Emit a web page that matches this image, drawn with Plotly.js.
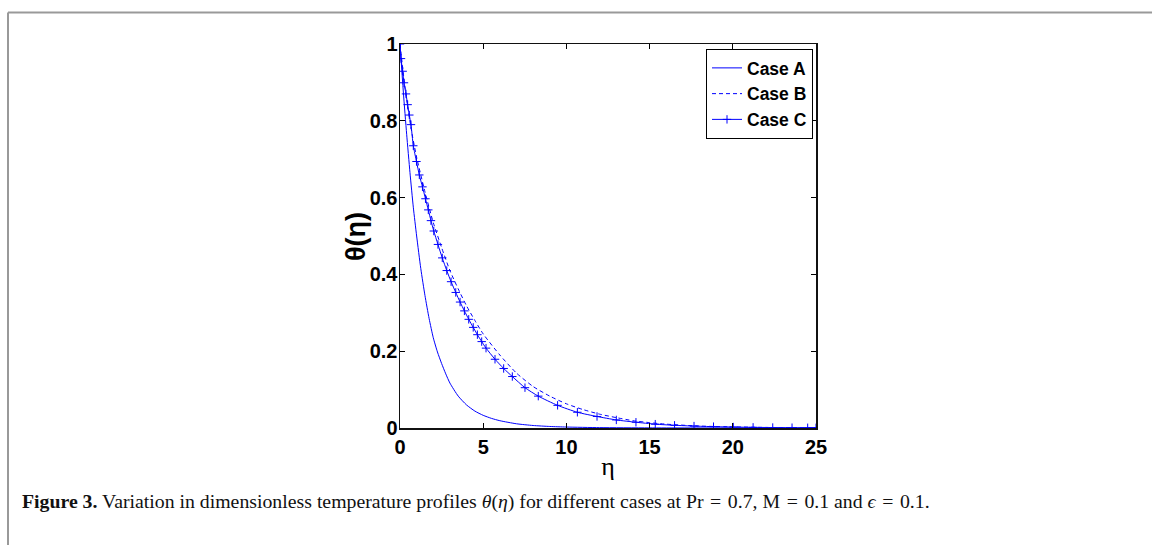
<!DOCTYPE html>
<html><head><meta charset="utf-8">
<script src="https://cdn.plot.ly/plotly-3.0.1.min.js"></script>
<style>html,body{margin:0;padding:0;background:#fff}#chart{width:1152px;height:545px}</style>
</head><body><div id="chart"></div>
<script>
// Case A (solid)
const etaA = [0,0.2,0.4,0.6,0.8,1.0,1.25,1.5,1.75,2.0,2.25,2.5,2.75,3.0,3.5,4.0,4.5,5.0,5.5,6.0,7.0,8.0,9.0,10,12,15,20,25];
const thetaA = [1.0,0.875,0.765,0.665,0.575,0.500,0.415,0.345,0.285,0.235,0.198,0.168,0.141,0.117,0.083,0.060,0.044,0.033,0.025,0.019,0.011,0.0065,0.004,0.0025,0.001,0.0003,0.0001,0];
// Case B (dashed)
const etaB = [0,0.25,0.5,0.75,1.0,1.5,2.0,2.5,3.0,3.5,4.0,4.5,5.0,6.0,7.0,8.0,9.0,10,11,12,13,14,15,16,18,20,22,25];
const thetaB = [1.0,0.905,0.825,0.76,0.705,0.615,0.535,0.47,0.41,0.362,0.318,0.28,0.245,0.19,0.143,0.108,0.083,0.063,0.048,0.036,0.027,0.019,0.014,0.010,0.005,0.003,0.0015,0.0005];
// Case C (solid with + markers)
const etaC = [0,0.06,0.16,0.24,0.36,0.46,0.56,0.66,0.8,0.99,1.16,1.35,1.53,1.7,1.86,2.03,2.28,2.54,2.81,3.07,3.35,3.61,3.87,4.13,4.40,4.65,4.91,5.17,5.71,6.23,6.75,7.51,8.31,9.47,10.66,11.84,13.0,14.18,15.34,16.5,17.67,18.84,20.03,21.22,22.4,23.56,24.5,25];
const thetaC = [1.0,0.962,0.929,0.899,0.870,0.842,0.815,0.79,0.735,0.694,0.659,0.628,0.597,0.568,0.54,0.513,0.478,0.443,0.41,0.381,0.353,0.328,0.305,0.283,0.262,0.243,0.225,0.208,0.179,0.155,0.134,0.105,0.083,0.059,0.041,0.030,0.021,0.015,0.010,0.007,0.005,0.0035,0.0025,0.0017,0.0012,0.0008,0.0006,0.0005];

const names = ['Case A','Case B','Case C'];
const xTicks = [0,5,10,15,20,25];
const xTickText = ['0','5','10','15','20','25'];
const yTicks = [0,0.2,0.4,0.6,0.8,1];
const yTickText = ['0','0.2','0.4','0.6','0.8','1'];

const blue = 'rgb(0,0,255)';
const traces = [
  {x: etaA, y: thetaA, name: names[0], mode: 'lines', line: {color: blue, width: 1, shape: 'spline', smoothing: 0.6}},
  {x: etaB, y: thetaB, name: names[1], mode: 'lines', line: {color: blue, width: 1, dash: '4px,3px', shape: 'spline', smoothing: 0.6}},
  {x: etaC, y: thetaC, name: names[2], mode: 'lines+markers', line: {color: blue, width: 1, shape: 'spline', smoothing: 0.6},
   marker: {symbol: 'cross-thin-open', size: 6, color: blue, line: {color: blue, width: 1}}}
];

const W = 1152, H = 545, L = 400, R = 336, T = 44, B = 117;
const pw = W - L - R, ph = H - T - B;
const px2x = p => (p - L) / pw;
const px2y = p => (H - B - p) / ph;

const tickFont = {family: 'Liberation Sans, Arial, sans-serif', size: 20, color: '#000', weight: 'bold'};
const layout = {
  width: W, height: H,
  margin: {l: L, r: R, t: T, b: B, pad: 0},
  paper_bgcolor: '#fff', plot_bgcolor: '#fff',
  showlegend: true,
  xaxis: {range: [0, 25], tickvals: xTicks, ticktext: xTickText, ticks: 'inside', ticklen: 5, tickwidth: 1, tickcolor: '#000',
    showline: true, linecolor: '#111', linewidth: 1.5, mirror: 'ticks', showgrid: false, zeroline: false, tickfont: tickFont,
    title: {text: 'η', font: {family: 'Liberation Serif, serif', size: 26, color: '#000'}, standoff: 0}},
  yaxis: {range: [0, 1], tickvals: yTicks, ticktext: yTickText, ticks: 'inside', ticklen: 5, tickwidth: 1, tickcolor: '#000',
    ticklabelstandoff: -3,
    showline: true, linecolor: '#111', linewidth: 1.5, mirror: 'ticks', showgrid: false, zeroline: false, tickfont: tickFont},
  legend: {x: px2x(813), y: px2y(49), xanchor: 'right', yanchor: 'top', bgcolor: '#fff', bordercolor: '#000', borderwidth: 1,
    font: {family: 'Liberation Sans, Arial, sans-serif', size: 17.5, color: '#000', weight: 'bold'}, itemwidth: 30, tracegroupgap: 0},
  shapes: [
    {type: 'line', xref: 'paper', yref: 'paper', x0: px2x(8), x1: px2x(1152), y0: px2y(12.5), y1: px2y(12.5), line: {color: '#999', width: 2}},
    {type: 'line', xref: 'paper', yref: 'paper', x0: px2x(8), x1: px2x(8), y0: px2y(12.5), y1: px2y(545), line: {color: '#999', width: 2}}
  ],
  annotations: [
    {xref: 'paper', yref: 'paper', x: px2x(356), y: px2y(237), xanchor: 'center', yanchor: 'middle', showarrow: false, textangle: -90,
     text: 'θ(η)', font: {family: 'Liberation Sans, Arial, sans-serif', size: 27, color: '#000', weight: 'bold'}},
    {xref: 'paper', yref: 'paper', x: px2x(20), y: px2y(501), xanchor: 'left', yanchor: 'middle', showarrow: false,
     text: '<b>Figure 3.</b> Variation in dimensionless temperature profiles <i>θ</i>(<i>η</i>) for different cases at Pr \u200a=\u200a 0.7, M \u200a=\u200a 0.1 and <i>ϵ</i> \u200a=\u200a 0.1.',
     font: {family: 'Liberation Serif, serif', size: 19.8, color: '#111'}}
  ]
};
Plotly.newPlot('chart', traces, layout, {displayModeBar: false, staticPlot: true});
</script></body></html>
